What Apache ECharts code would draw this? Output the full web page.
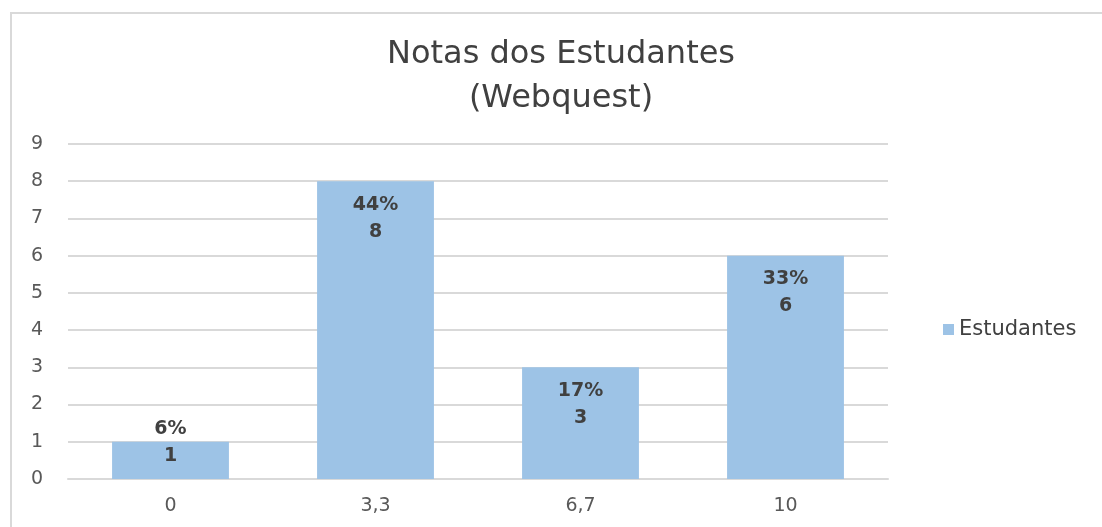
<!DOCTYPE html>
<html>
<head>
<meta charset="utf-8">
<script src="https://cdn.jsdelivr.net/npm/echarts@6/dist/echarts.min.js"></script>
<style>
  html, body { margin: 0; padding: 0; background: #fff; }
  #chart { width: 1102px; height: 527px; }
</style>
</head>
<body>
<div id="chart"></div>
<script>
// dados
const notas = ['0', '3,3', '6,7', '10']
const estudantes = [1, 8, 3, 6]
const percentuais = ['6%', '44%', '17%', '33%']
const yTicks = [0, 9, 1] // min, max, intervalo

const chart = echarts.init(document.getElementById('chart'))

const font = '"DejaVu Sans", Verdana, sans-serif'

const option = {
  backgroundColor: '#fff',
  animation: false,
  textStyle: { fontFamily: font },
  graphic: [{
    type: 'rect',
    shape: { x: 11, y: 13, width: 1200, height: 600 },
    style: { fill: 'none', stroke: '#d9d9d9', lineWidth: 2 },
    silent: true
  }],
  title: {
    text: 'Notas dos Estudantes\n(Webquest)',
    left: 556,
    textAlign: 'center',
    top: 28,
    textStyle: {
      fontFamily: font,
      fontWeight: 'normal',
      fontSize: 32,
      lineHeight: 44,
      color: '#404040'
    }
  },
  legend: {
    data: ['Estudantes'],
    left: 938,
    top: 314,
    itemWidth: 11,
    itemHeight: 11,
    itemGap: 7,
    icon: 'rect',
    textStyle: { fontSize: 21, color: '#404040', fontFamily: font }
  },
  grid: { left: 68, right: 214, top: 144, bottom: 48 },
  xAxis: {
    type: 'category',
    data: notas,
    axisTick: { show: false },
    axisLine: { lineStyle: { color: '#d9d9d9', width: 2 } },
    axisLabel: { color: '#595959', fontSize: 19, margin: 18 }
  },
  yAxis: {
    type: 'value',
    min: yTicks[0],
    max: yTicks[1],
    interval: yTicks[2],
    axisLine: { show: false },
    axisTick: { show: false },
    splitLine: { lineStyle: { color: '#d9d9d9', width: 2 } },
    axisLabel: { color: '#595959', fontSize: 19, margin: 25 }
  },
  series: [{
    name: 'Estudantes',
    type: 'bar',
    barCategoryGap: '43%',
    itemStyle: { color: '#9dc3e6' },
    label: {
      show: true,
      position: 'insideTop',
      distance: 10,
      fontSize: 19,
      fontWeight: 'bold',
      lineHeight: 27,
      color: '#404040',
      fontFamily: font,
      formatter: p => percentuais[p.dataIndex] + '\n' + p.value
    },
    data: estudantes.map((v, i) => i === 0
      ? { value: v, label: { position: 'top', distance: -28 } }
      : v)
  }]
}

chart.setOption(option)
</script>
</body>
</html>
